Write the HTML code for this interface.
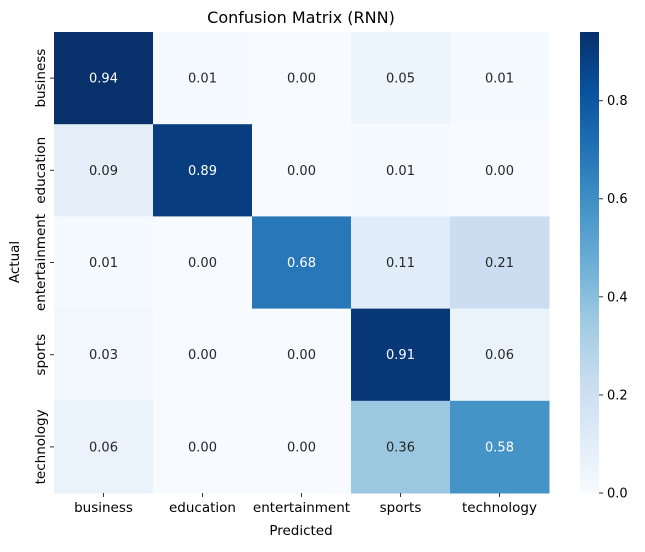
<!DOCTYPE html>
<html><head><meta charset="utf-8"><style>
body{margin:0;background:#fff;}
svg text{font-family:"DejaVu Sans","Liberation Sans",sans-serif;}
</style></head><body>
<svg id="chart" width="645" height="547" xmlns="http://www.w3.org/2000/svg">
<defs><linearGradient id="cb" x1="0" y1="1" x2="0" y2="0">
<stop offset="0" stop-color="#f7fbff"/><stop offset="0.125" stop-color="#deebf7"/><stop offset="0.25" stop-color="#c6dbef"/><stop offset="0.375" stop-color="#9ecae1"/><stop offset="0.5" stop-color="#6baed6"/><stop offset="0.625" stop-color="#4292c6"/><stop offset="0.75" stop-color="#2171b5"/><stop offset="0.875" stop-color="#08519c"/><stop offset="1" stop-color="#08306b"/>
</linearGradient></defs>
<text x="301" y="23" font-size="16" text-anchor="middle">Confusion Matrix (RNN)</text>
<text x="301" y="535" font-size="13.5" text-anchor="middle">Predicted</text>
<text x="19" y="262" font-size="13.5" text-anchor="middle" transform="rotate(-90 19 262)">Actual</text>
<g id="cells"></g>
<rect x="580" y="32" width="19" height="461" fill="url(#cb)"/>
<g id="cbticks"></g>
</svg>
<script>
const categories=["business","education","entertainment","sports","technology"];
const row0=[0.94,0.01,0.00,0.05,0.01];
const row1=[0.09,0.89,0.00,0.01,0.00];
const row2=[0.01,0.00,0.68,0.11,0.21];
const row3=[0.03,0.00,0.00,0.91,0.06];
const row4=[0.06,0.00,0.00,0.36,0.58];
const cbTicks=[0,0.2,0.4,0.6,0.8];
const matrix=[row0,row1,row2,row3,row4];
const vmin=0,vmax=0.94;
const X0=54,X1=549,Y0=32,Y1=493;
const cw=(X1-X0)/categories.length,ch=(Y1-Y0)/categories.length;
const blues=["#f7fbff","#deebf7","#c6dbef","#9ecae1","#6baed6","#4292c6","#2171b5","#08519c","#08306b"];
function hex(h){return [1,3,5].map(i=>parseInt(h.substr(i,2),16));}
function color(v){let t=Math.max(0,Math.min(1,(v-vmin)/(vmax-vmin)))*(blues.length-1);let i=Math.min(Math.floor(t),blues.length-2),f=t-i;let a=hex(blues[i]),b=hex(blues[i+1]);return "rgb("+a.map((x,k)=>Math.round(x+(b[k]-x)*f)).join(",")+")";}
const NS="http://www.w3.org/2000/svg";
const g=document.getElementById("cells");
function mk(tag,attrs,parent){const e=document.createElementNS(NS,tag);for(const k in attrs)e.setAttribute(k,attrs[k]);parent.appendChild(e);return e;}
matrix.forEach((row,r)=>row.forEach((v,c)=>{
 const rc=mk("rect",{x:X0+c*cw,y:Y0+r*ch,width:cw+0.5,height:ch+0.5,fill:color(v)},g);
 
 
 const t=mk("text",{x:X0+(c+0.5)*cw,y:Y0+(r+0.5)*ch+4.5,"font-size":"13","text-anchor":"middle",fill:(v/vmax>0.55?"#fff":"#262626")},g);
 t.textContent=v.toFixed(2);
 
 
}));
categories.forEach((c,i)=>{
 const x=X0+(i+0.5)*cw;
 mk("line",{x1:x,x2:x,y1:Y1,y2:Y1+4,stroke:"#333"},g);
 const t=mk("text",{x:x,y:Y1+19,"font-size":"13.5","text-anchor":"middle"},g);t.textContent=c;
 
 
 const y=Y0+(i+0.5)*ch;
 mk("line",{x1:X0-4,x2:X0,y1:y,y2:y,stroke:"#333"},g);
 const u=mk("text",{x:X0-9,y:y,"font-size":"13.5","text-anchor":"middle",transform:"rotate(-90 "+(X0-9)+" "+y+")"},g);u.textContent=c;
 
 
});
const cg=document.getElementById("cbticks");
cbTicks.forEach(v=>{
 const y=Y1-(v-vmin)/(vmax-vmin)*(Y1-Y0);
 mk("line",{x1:599,x2:603,y1:y,y2:y,stroke:"#333"},cg);
 const t=mk("text",{x:607,y:y+4.5,"font-size":"13"},cg);t.textContent=v.toFixed(1);
 
 
});
</script>
</body></html>
